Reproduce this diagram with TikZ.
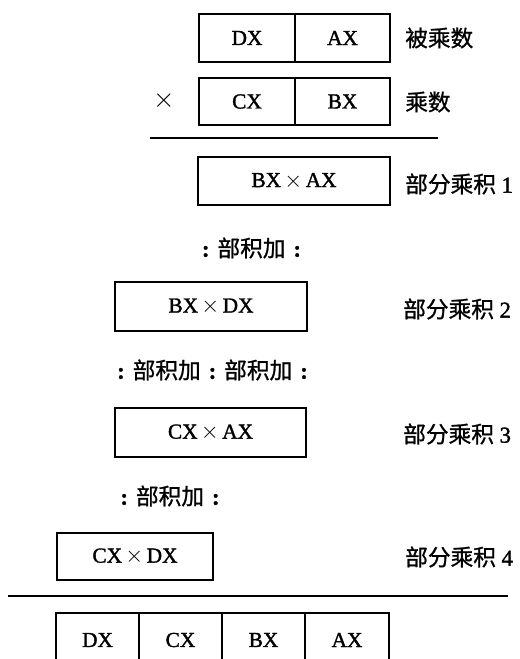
\documentclass[tikz,border=0pt]{standalone}
\usepackage{fontspec}
\setmainfont[FakeBold=1.5]{Liberation Serif}
\newfontfamily\cjk[FakeBold=1]{Noto Sans CJK SC}
\newcommand\bjcolon{\textbf{:}}
\newcommand\bjsum{\bjcolon\hspace{6pt}{\cjk 部积加}\hspace{6pt}}
\newcommand\bjx{\hspace{2.5pt}$\times$\hspace{2.5pt}}
\begin{document}
\begin{tikzpicture}[x=0.75pt,y=-0.75pt,
  box/.style={draw,line width=0.9pt,inner sep=0pt,font=\fontsize{16}{18}\selectfont},
  lab/.style={anchor=west,inner sep=0pt,font=\fontsize{17}{20}\selectfont},
  sumrow/.style={inner sep=0pt,font=\fontsize{17}{20}\selectfont},
  rule/.style={line width=1pt}]
\clip (0,0) rectangle (519,659);
% multiplicand
\node[box,minimum width=72pt,minimum height=36pt] (dx1) at (247,38) {DX};
\node[box,minimum width=71.25pt,minimum height=36pt] (ax1) at (342.5,38) {AX};
\node[lab] (l0) at (405,38) {\cjk 被乘数};
% multiplier
\node[box,minimum width=72pt,minimum height=35.25pt] (cx2) at (247,101.5) {CX};
\node[box,minimum width=71.25pt,minimum height=35.25pt] (bx2) at (342.5,101.5) {BX};
\node[lab] (l00) at (405,102) {\cjk 乘数};
\node[inner sep=0pt,font=\fontsize{22}{24}\selectfont] (times) at (164,101) {$\times$};
% first rule
\coordinate (r1a) at (150,138);
\coordinate (r1b) at (438,138);
\draw[rule] (r1a) -- (r1b);
% partial products
\node[box,minimum width=144pt,minimum height=36pt] (p1) at (294,181) {BX\bjx AX};
\node[lab] (l1) at (405,184) {{\cjk 部分乘积} 1};
\node[sumrow] (s1) at (251.5,248) {\bjsum\bjcolon};
\node[box,minimum width=144pt,minimum height=36.75pt] (p2) at (211,306.5) {BX\bjx DX};
\node[lab] (l2) at (403,309) {{\cjk 部分乘积} 2};
\node[sumrow] (s2) at (212.5,370) {\bjsum\bjsum\bjcolon};
\node[box,minimum width=143.25pt,minimum height=36.75pt] (p3) at (210.5,432.5) {CX\bjx AX};
\node[lab] (l3) at (403,434) {{\cjk 部分乘积} 3};
\node[sumrow] (s3) at (170,496) {\bjsum\bjcolon};
\node[box,minimum width=117pt,minimum height=35.25pt] (p4) at (135,556.5) {CX\bjx DX};
\node[lab] (l4) at (405,557) {{\cjk 部分乘积} 4};
% second rule
\coordinate (r2a) at (8,596);
\coordinate (r2b) at (508,596);
\draw[rule] (r2a) -- (r2b);
% product
\node[box,minimum width=62.25pt,minimum height=40.5pt] (rdx) at (97.5,640) {DX};
\node[box,minimum width=62.25pt,minimum height=40.5pt] (rcx) at (180.5,640) {CX};
\node[box,minimum width=62.25pt,minimum height=40.5pt] (rbx) at (263.5,640) {BX};
\node[box,minimum width=63pt,minimum height=40.5pt] (rax) at (347,640) {AX};
\end{tikzpicture}
\end{document}
